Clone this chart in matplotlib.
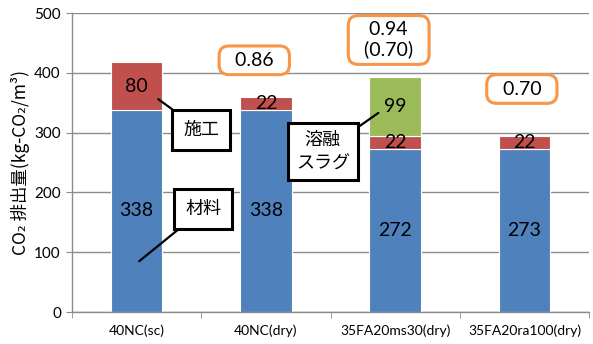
import numpy as np
import matplotlib.pyplot as plt

# CO2 emissions per mix (kg-CO2/m3)
mixes = ['40NC(sc)', '40NC(dry)', '35FA20ms30(dry)', '35FA20ra100(dry)']
material = [338, 338, 272, 273]
construction = [80, 22, 22, 22]
slag = [0, 0, 99, 0]
# ratio relative to 40NC(sc), shown above the bars
ratio_text = [None, '0.86', '0.94\n(0.70)', '0.70']

BLUE = '#4F81BD'
RED = '#C0504D'
GREEN = '#9BBB59'
ORANGE = '#F79646'
GRID = '#8C8C8C'

NUM_FONT = ['Lato', 'DejaVu Sans']
JP_FONT = ['Noto Sans CJK JP', 'DejaVu Sans']

fig = plt.figure(figsize=(5.93, 3.44), dpi=100)
ax = fig.add_axes([0.1214, 0.093, 0.872, 0.869])

x = np.arange(len(mixes))
width = 0.4
mat = np.array(material)
con = np.array(construction)
sl = np.array(slag)

ax.bar(x, mat, width, color=BLUE, edgecolor='white', linewidth=0.8, zorder=2)
ax.bar(x, con, width, bottom=mat, color=RED, edgecolor='white', linewidth=0.8, zorder=2)
has_slag = sl > 0
ax.bar(x[has_slag], sl[has_slag], width, bottom=(mat + con)[has_slag],
       color=GREEN, edgecolor='white', linewidth=0.8, zorder=2)

# segment values
for i in range(len(mixes)):
    ax.text(x[i], mat[i] / 2, str(mat[i]), ha='center', va='center',
            fontsize=14, family=NUM_FONT, zorder=4)
    ax.text(x[i], mat[i] + con[i] / 2, str(con[i]), ha='center', va='center',
            fontsize=14, family=NUM_FONT, zorder=4)
    if sl[i] > 0:
        ax.text(x[i], mat[i] + con[i] + sl[i] / 2, str(sl[i]), ha='center',
                va='center', fontsize=14, family=NUM_FONT, zorder=4)

# ratio boxes, floated above each bar
box_pos = {1: (-0.09, 421), 2: (-0.05, 455), 3: (-0.02, 373)}
for i, (dx, yy) in box_pos.items():
    t = ratio_text[i]
    ax.text(x[i] + dx, yy, '  ' + t.replace('\n', '  \n  ') + '  ',
            ha='center', va='center', fontsize=14, family=NUM_FONT,
            linespacing=1.15, zorder=5,
            bbox=dict(boxstyle='round,pad=0.3,rounding_size=0.5',
                      fc='white', ec=ORANGE, lw=2.2))

# callouts
callout_box = dict(boxstyle='square,pad=0.6', fc='white', ec='black', lw=2.2)
line = dict(arrowstyle='-', color='black', lw=1.6, shrinkA=0, shrinkB=0)
ax.annotate('施工', xy=(0.167, 356), xytext=(0.5, 304), ha='center', va='center',
            fontsize=13, family=JP_FONT, bbox=callout_box, arrowprops=line, zorder=6)
ax.annotate('材料', xy=(0.02, 85), xytext=(0.516, 172), ha='center', va='center',
            fontsize=13, family=JP_FONT, bbox=callout_box, arrowprops=line, zorder=6)
ax.annotate('溶融\nスラグ', xy=(1.87, 333), xytext=(1.44, 268), ha='center', va='center',
            fontsize=13, family=JP_FONT, linespacing=1.35,
            bbox=dict(boxstyle='square,pad=0.45', fc='white', ec='black', lw=2.2),
            arrowprops=line, zorder=6)

ax.set_xlim(-0.5, 3.5)
ax.set_ylim(0, 500)
ax.set_yticks(range(0, 501, 100))
ax.set_xticks(x)
ax.set_xticklabels(mixes, family=NUM_FONT, fontsize=10)
ax.set_xticks(np.arange(-0.5, 4, 1), minor=True)
ax.tick_params(axis='x', which='major', length=0, pad=9)
ax.tick_params(axis='x', which='minor', length=4, color=GRID, direction='out')
ax.tick_params(axis='y', length=4, color=GRID, direction='out', labelsize=11, pad=4)
for lab in ax.get_yticklabels():
    lab.set_family(NUM_FONT)

ax.yaxis.grid(True, color=GRID, lw=1.0, zorder=0)
ax.set_axisbelow(True)
for s in ['top', 'right']:
    ax.spines[s].set_visible(False)
for s in ['left', 'bottom']:
    ax.spines[s].set_color(GRID)
    ax.spines[s].set_linewidth(1.0)

ax.set_ylabel('CO₂ 排出量(kg-CO₂/m³)', family=JP_FONT, fontsize=12.5, labelpad=3)

fig.savefig('out.png', dpi=100)
